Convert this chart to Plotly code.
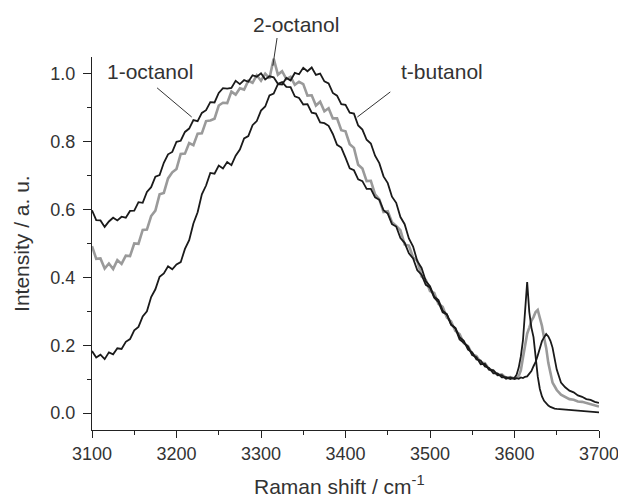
import plotly.graph_objects as go

# Raman shift sampling (cm^-1)
wavenumber = (list(range(3100, 3600, 5))
              + [3600 + 2.5 * i for i in range(20)]
              + list(range(3650, 3701, 5)))

octanol_1 = [
    .598, .569, .568, .549, .565, .576, .568, .579, .576, .596,
    .597, .622, .620, .652, .666, .697, .702, .738, .763, .770,
    .800, .803, .829, .839, .864, .861, .885, .893, .917, .916,
    .944, .958, .957, .959, .980, .970, .982, .977, .996, .992,
    1.002, .984, .993, .990, .971, .976, .962, .961, .934, .929,
    .910, .911, .886, .883, .857, .855, .847, .823, .791, .783,
    .753, .722, .716, .689, .684, .661, .661, .636, .629, .598,
    .588, .557, .550, .516, .502, .471, .456, .421, .408, .378,
    .370, .340, .327, .297, .291, .261, .250, .217, .207, .196,
    .171, .165, .144, .145, .128, .126, .112, .112, .101, .105,
    .100, .103, .101, .105, .103, .107, .108, .116, .124, .138,
    .151, .170, .189, .212, .223, .233, .226, .213, .193, .163,
    .128, .090, .076, .066, .061, .052, .048, .041, .039, .033, .030,
]

octanol_2 = [
    .492, .455, .456, .426, .441, .425, .451, .440, .464, .463,
    .500, .499, .540, .541, .581, .597, .645, .649, .692, .710,
    .720, .764, .765, .796, .790, .824, .825, .861, .863, .868,
    .907, .915, .914, .948, .939, .958, .954, .980, .974, .996,
    .980, 1.001, .987, 1.045, .998, 1.008, .985, .992, .968, .977,
    .970, .936, .937, .907, .918, .890, .899, .869, .869, .834,
    .831, .793, .782, .732, .721, .684, .685, .645, .630, .593,
    .595, .563, .552, .539, .497, .494, .459, .449, .403, .393,
    .360, .354, .322, .313, .282, .270, .242, .233, .206, .197,
    .173, .168, .149, .147, .129, .125, .112, .114, .104, .106,
    .102, .104, .109, .126, .163, .198, .234, .252, .272, .283,
    .298, .304, .283, .257, .222, .192, .148, .117, .090, .079,
    .068, .054, .048, .041, .039, .034, .033, .029, .027, .021, .019,
]

t_butanol = [
    .183, .164, .172, .159, .179, .173, .191, .189, .210, .218,
    .244, .254, .285, .300, .342, .365, .402, .412, .433, .424,
    .438, .445, .484, .510, .559, .592, .645, .671, .708, .706,
    .730, .721, .740, .731, .759, .777, .810, .817, .849, .861,
    .892, .904, .937, .942, .970, .969, .988, .981, 1.003, .999,
    1.018, 1.008, 1.019, .997, 1.001, .978, .972, .944, .936, .911,
    .909, .886, .883, .848, .836, .806, .795, .759, .737, .698,
    .678, .638, .620, .578, .557, .515, .491, .448, .428, .389,
    .374, .343, .333, .302, .291, .260, .251, .224, .213, .187,
    .179, .158, .155, .137, .133, .117, .117, .105, .106, .100,
    .104, .113, .134, .167, .214, .302, .386, .298, .252, .224,
    .163, .108, .071, .049, .036, .028, .022, .018, .015, .013,
    .012, .011, .010, .011, .009, .008, .008, .006, .005, .004, .002,
]

x_ticks = [3100, 3200, 3300, 3400, 3500, 3600, 3700]
y_ticks = [0.0, 0.2, 0.4, 0.6, 0.8, 1.0]

X_RANGE = [3100, 3700]
Y_RANGE = [-0.05, 1.05]

# label text, label position (data units), pointer tail (data), pointer head (data)
labels = [
    ("1-octanol", 3169, 1.006, 3177, 0.959, 3218, 0.873),
    ("2-octanol", 3341, 1.145, 3319, 1.106, 3314, 1.024),
    ("t-butanol", 3514, 1.006, 3453, 0.947, 3414, 0.873),
]

FONT = "Liberation Sans, Arial, Helvetica, sans-serif"
TXT = "#333333"
AX = "#222222"


def px(x):
    return (x - X_RANGE[0]) / (X_RANGE[1] - X_RANGE[0])


def py(y):
    return (y - Y_RANGE[0]) / (Y_RANGE[1] - Y_RANGE[0])


fig = go.Figure()
fig.add_trace(go.Scatter(x=wavenumber, y=octanol_2, mode="lines", name="2-octanol",
                         line=dict(color="#9a9a9a", width=2.6)))
fig.add_trace(go.Scatter(x=wavenumber, y=octanol_1, mode="lines", name="1-octanol",
                         line=dict(color="#1a1a1a", width=1.8)))
fig.add_trace(go.Scatter(x=wavenumber, y=t_butanol, mode="lines", name="t-butanol",
                         line=dict(color="#1a1a1a", width=1.8)))

for text, tx, ty, x0, y0, x1, y1 in labels:
    fig.add_annotation(x=px(tx), y=py(ty), xref="paper", yref="paper", text=text,
                       showarrow=False, xanchor="center", yanchor="middle",
                       font=dict(family=FONT, size=21, color=TXT))
    fig.add_shape(type="line", xref="paper", yref="paper",
                  x0=px(x0), y0=py(y0), x1=px(x1), y1=py(y1),
                  line=dict(color="#333333", width=1))

# axis titles
fig.add_annotation(x=0.489, y=-0.147, xref="paper", yref="paper",
                   text="Raman shift / cm<sup>-1</sup>", showarrow=False,
                   xanchor="center", yanchor="middle",
                   font=dict(family=FONT, size=21, color=TXT))
fig.add_annotation(x=-0.138, y=0.499, xref="paper", yref="paper",
                   text="Intensity / a. u.", showarrow=False, textangle=-90,
                   xanchor="center", yanchor="middle",
                   font=dict(family=FONT, size=21, color=TXT))

fig.update_layout(
    width=626, height=497,
    margin=dict(l=84, r=35, t=49, b=75),
    paper_bgcolor="white", plot_bgcolor="white",
    showlegend=False,
    font=dict(family=FONT, color=TXT),
)
fig.update_xaxes(
    range=X_RANGE, tickvals=x_ticks, ticks="outside", ticklen=7, tickwidth=1,
    tickcolor=AX, showline=True, linecolor=AX, linewidth=1, showgrid=False,
    zeroline=False, tickfont=dict(size=18, color=TXT, family=FONT), automargin=False,
    minor=dict(dtick=50, tick0=3100, ticks="outside", ticklen=4, tickcolor=AX, showgrid=False),
)
fig.update_yaxes(
    range=Y_RANGE, tickvals=y_ticks, tickformat=".1f", ticks="outside", ticklen=8,
    tickwidth=1, tickcolor=AX, showline=True, linecolor=AX, linewidth=1, showgrid=False,
    zeroline=False, tickfont=dict(size=18, color=TXT, family=FONT), ticklabelstandoff=4,
    automargin=False,
    minor=dict(dtick=0.1, tick0=0, ticks="outside", ticklen=4, tickcolor=AX, showgrid=False),
)

fig.write_html("out.html")
